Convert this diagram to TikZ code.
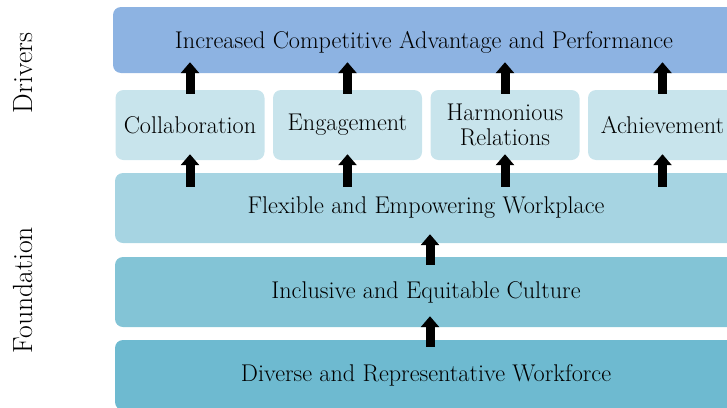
\documentclass[tikz,border=0pt]{standalone}
\usepackage{fontspec}
\usetikzlibrary{arrows.meta}

\definecolor{topblue}{RGB}{141,179,226}
\definecolor{drvfill}{RGB}{200,228,236}
\definecolor{flexfill}{RGB}{166,212,226}
\definecolor{inclfill}{RGB}{131,196,214}
\definecolor{divfill}{RGB}{110,186,208}

\tikzset{
  box/.style={rounded corners=8pt, inner sep=0pt, align=center,
    font=\fontsize{24.2}{25}\selectfont},
  drv/.style={box, fill=drvfill, minimum width=149pt, minimum height=70pt},
  layer/.style={box, minimum width=622pt, minimum height=70pt},
  side/.style={rotate=90, font=\fontsize{27.7}{30}\selectfont},
  up/.style={-{Triangle[width=18pt,length=11pt]}, line width=9pt}
}

\begin{document}
\begin{tikzpicture}[x=1pt,y=-1pt]
\useasboundingbox (0,0) rectangle (727,407);
\clip (0,0) rectangle (727,407);

\node [layer, fill=topblue, minimum height=66pt, text depth=0pt] (perf) at (424,40)
  {Increased Competitive Advantage and Performance};

\node [drv] (collab) at (190,125) {Collaboration};
\node [drv] (engage) at (347.5,125) {Engagement};
\node [drv] (harmony) at (505,125) {Harmonious\\Relations};
\node [drv] (achieve) at (662.5,125) {Achievement};

\node [layer, fill=flexfill] (flex) at (426,208) {Flexible and Empowering Workplace};
\node [layer, fill=inclfill] (incl) at (426,292) {Inclusive and Equitable Culture};
\node [layer, fill=divfill] (div) at (426,375) {Diverse and Representative Workforce};

\node [side] (drivers) at (23,73) {Drivers};
\node [side] (found) at (23,290) {Foundation};

\foreach \n in {collab,engage,harmony,achieve}{
  \draw [up] ([yshift=-4pt]\n.north) -- ([yshift=11pt]\n.north |- perf.south);
  \draw [up] ([yshift=-14pt]flex.north -| \n) -- ([yshift=6pt]\n.south);
}

\draw [up] ([xshift=4pt,yshift=-8pt]incl.north) -- ([xshift=4pt,yshift=9pt]flex.south);
\draw [up] ([xshift=4pt,yshift=-7pt]div.north) -- ([xshift=4pt,yshift=11pt]incl.south);

\end{tikzpicture}
\end{document}
